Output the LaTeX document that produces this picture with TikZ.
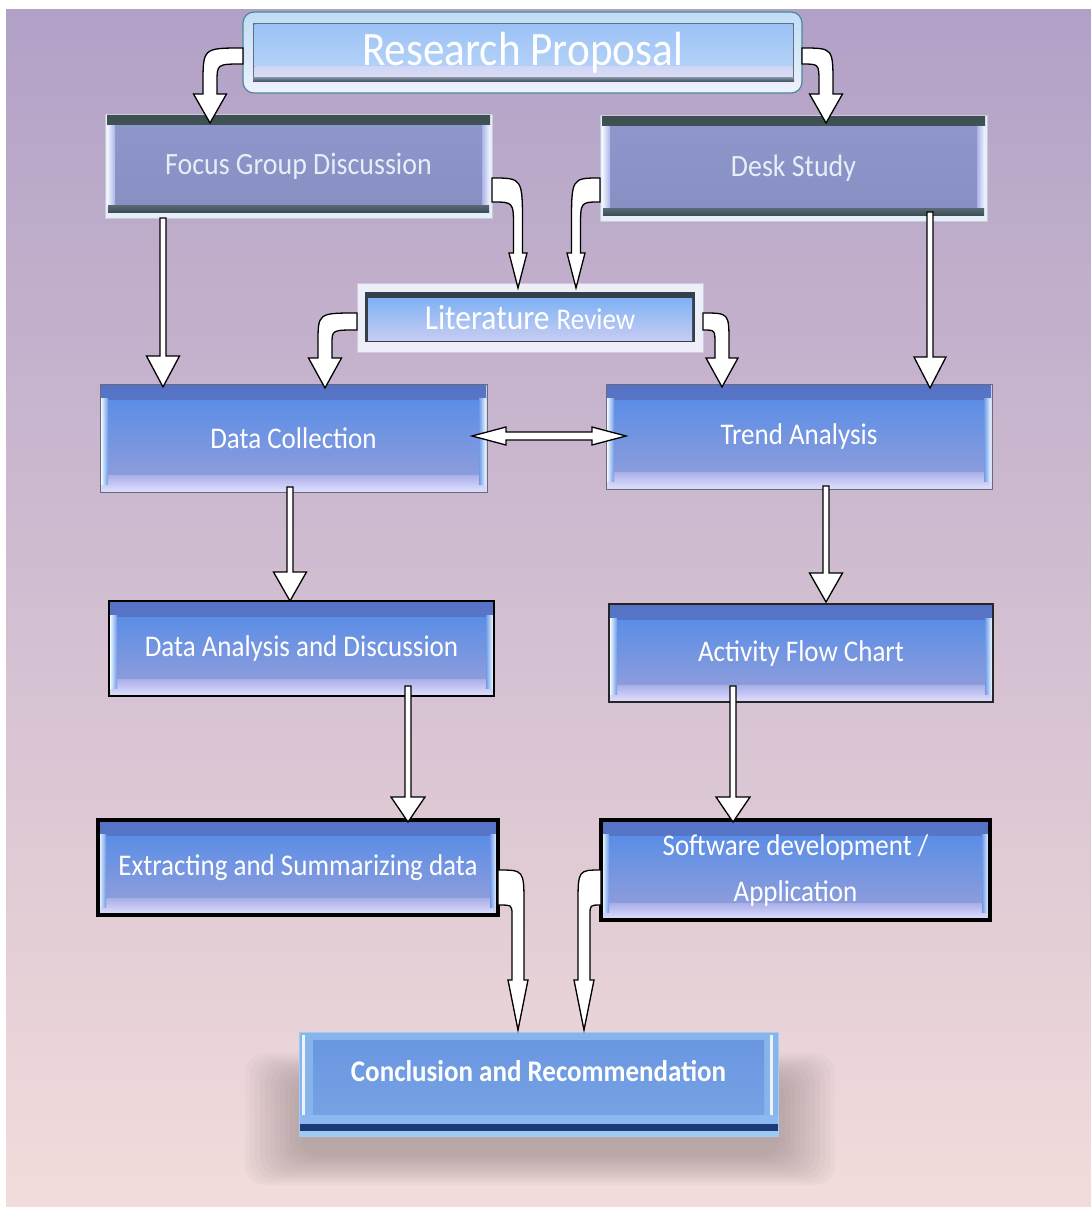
\documentclass[tikz,border=0pt]{standalone}
\usepackage{fontspec}
\setmainfont{Carlito}[FakeStretch=0.9]
\usetikzlibrary{calc}

\definecolor{bgtop}{HTML}{B2A1C7}
\definecolor{bgbot}{HTML}{F2DCDB}
\definecolor{rimA}{HTML}{E6EEFA}
\definecolor{barAt}{HTML}{3C4E50}
\definecolor{barAb}{HTML}{6C7C84}
\definecolor{mainAt}{HTML}{8E97CB}
\definecolor{mainAb}{HTML}{878FC3}
\definecolor{edgeAo}{HTML}{F4F8FF}
\definecolor{edgeAi}{HTML}{A8B4E8}
\definecolor{botAt}{HTML}{5A6A74}
\definecolor{botAb}{HTML}{3E4E56}
\definecolor{txtA}{HTML}{E8EEF8}
\definecolor{rimB}{HTML}{D4DAF8}
\definecolor{lineB}{HTML}{6A6A7A}
\definecolor{topBt}{HTML}{5672C4}
\definecolor{topBb}{HTML}{5C88DE}
\definecolor{mainBt}{HTML}{5B8EE6}
\definecolor{mainBm}{HTML}{6A94E2}
\definecolor{mainBb}{HTML}{8C9CDC}
\definecolor{lowBt}{HTML}{A8AEE8}
\definecolor{lowBb}{HTML}{D8D8FA}
\definecolor{edgeBo}{HTML}{F0FAFF}
\definecolor{edgeBi}{HTML}{6E9AE6}
\definecolor{rpRimT}{HTML}{BFDDF6}
\definecolor{rpRimB}{HTML}{EEF2FC}
\definecolor{rpLine}{HTML}{4C8898}
\definecolor{rpFrame}{HTML}{5E7282}
\definecolor{rpInT}{HTML}{9CC2F6}
\definecolor{rpInB}{HTML}{B4D2F8}
\definecolor{rpLowT}{HTML}{D0D6F4}
\definecolor{rpLowB}{HTML}{DCDCF4}
\definecolor{rpDarkT}{HTML}{8896A8}
\definecolor{rpDarkB}{HTML}{4A5868}
\definecolor{lrRim}{HTML}{EEEEF8}
\definecolor{lrLine}{HTML}{CCCCDD}
\definecolor{lrFrame}{HTML}{34404E}
\definecolor{lrInT}{HTML}{7FB2F4}
\definecolor{lrInB}{HTML}{C6CCF2}
\definecolor{crRim}{HTML}{88B4EC}
\definecolor{crLine}{HTML}{A4CCF2}
\definecolor{crInT}{HTML}{6896E0}
\definecolor{crInB}{HTML}{7AA4E6}
\definecolor{crStrip}{HTML}{8CBAF0}
\definecolor{crNavy}{HTML}{1C3A78}
\definecolor{crBot}{HTML}{9ECAF2}
\definecolor{shadowc}{HTML}{7A6A6A}

\newcommand\ppfill[3]{\fill[sharp corners,#1] let \p1=(path picture bounding box.south west), \p2=(path picture bounding box.north east) in (#2) rectangle (#3);}

\newcommand\vblock[5]{\draw[blk] let \p1=(#1), \p2=(#2) in
 ({\x2-#3pt},\y1) -- ({\x2-#3pt},{\y2+#5pt}) -- ({\x2-#4pt},{\y2+#5pt}) -- (\x2,\y2)
 -- ({\x2+#4pt},{\y2+#5pt}) -- ({\x2+#3pt},{\y2+#5pt}) -- ({\x2+#3pt},\y1) -- cycle;}

\newcommand\hdouble[5]{\draw[blk] let \p1=(#1), \p2=(#2) in
 (\x1,\y1) -- ({\x1+#5pt},{\y1+#4pt}) -- ({\x1+#5pt},{\y1+#3pt}) -- ({\x2-#5pt},{\y1+#3pt})
 -- ({\x2-#5pt},{\y1+#4pt}) -- (\x2,\y1) -- ({\x2-#5pt},{\y1-#4pt}) -- ({\x2-#5pt},{\y1-#3pt})
 -- ({\x1+#5pt},{\y1-#3pt}) -- ({\x1+#5pt},{\y1-#4pt}) -- cycle;}

\newcommand\bent[9]{\draw[blk] let \p1=(#1), \p2=(#2) in
 (\x1,{\y1+#4pt})
 .. controls ({\x2+(#3)*(#5pt)},{\y1+#4pt}) and ({\x2+(#3)*(#5pt)},{\y1+#4pt}) .. ({\x2+(#3)*(#5pt)},{\y1+#4pt-#8pt})
 -- ({\x2+(#3)*(#5pt)},{\y2+#7pt}) -- ({\x2+(#3)*(#6pt)},{\y2+#7pt}) -- (\x2,\y2)
 -- ({\x2-(#3)*(#6pt)},{\y2+#7pt}) -- ({\x2-(#3)*(#5pt)},{\y2+#7pt})
 -- ({\x2-(#3)*(#5pt)},{\y1-#4pt-#9pt})
 .. controls ({\x2-(#3)*(#5pt)},{\y1-#4pt}) and ({\x2-(#3)*(#5pt)},{\y1-#4pt}) .. (\x1,{\y1-#4pt}) -- cycle;}

\tikzset{
 lbl/.style={rectangle, text=white, font=\fontsize{30}{36}\selectfont, align=center, inner sep=0pt, outer sep=0pt},
 boxA/.style={lbl, fill=rimA, draw=rimA!70!gray, line width=0.5pt, text=txtA, font=\fontsize{31}{36}\selectfont,
   path picture={
     \ppfill{top color=barAt,bottom color=barAb}{\x1+2pt,\y2-11pt}{\x2-2pt,\y2-1.5pt}
     \ppfill{top color=mainAt,bottom color=mainAb}{\x1+10pt,\y1+13pt}{\x2-10pt,\y2-11pt}
     \ppfill{left color=edgeAo,right color=edgeAi}{\x1+2pt,\y1+13pt}{\x1+10pt,\y2-11pt}
     \ppfill{left color=edgeAi,right color=edgeAo}{\x2-10pt,\y1+13pt}{\x2-2pt,\y2-11pt}
     \ppfill{top color=botAt,bottom color=botAb}{\x1+3pt,\y1+6pt}{\x2-3pt,\y1+13pt}
   }},
 boxB/.style={lbl, fill=rimB,
   path picture={
     \ppfill{top color=topBt,bottom color=topBb}{\x1+1pt,\y2-16pt}{\x2-1pt,\y2-1pt}
     \ppfill{top color=mainBt,middle color=mainBm,bottom color=mainBb}{\x1+8pt,\y1+17pt}{\x2-8pt,\y2-16pt}
     \ppfill{top color=lowBt,bottom color=lowBb}{\x1+3pt,\y1+3pt}{\x2-3pt,\y1+17pt}
     \ppfill{left color=edgeBo,right color=edgeBi}{\x1+1pt,\y1+8pt}{\x1+8pt,\y2-14pt}
     \ppfill{left color=edgeBi,right color=edgeBo}{\x2-8pt,\y1+8pt}{\x2-1pt,\y2-14pt}
   }},
 boxRP/.style={lbl, rounded corners=11pt, top color=rpRimT, bottom color=rpRimB, draw=rpLine, line width=1.2pt,
   font=\fontsize{48}{54}\selectfont,
   path picture={
     \ppfill{fill=rpFrame}{\x1+10pt,\y1+12pt}{\x2-8pt,\y2-11pt}
     \ppfill{top color=rpInT,bottom color=rpInB}{\x1+11.5pt,\y1+26pt}{\x2-9.5pt,\y2-13pt}
     \ppfill{top color=rpLowT,bottom color=rpLowB}{\x1+11.5pt,\y1+16pt}{\x2-9.5pt,\y1+26pt}
     \ppfill{top color=rpDarkT,bottom color=rpDarkB}{\x1+10pt,\y1+12pt}{\x2-8pt,\y1+16pt}
   }},
 boxLR/.style={lbl, fill=lrRim, draw=lrLine, line width=0.6pt,
   path picture={
     \ppfill{fill=lrFrame}{\x1+8pt,\y1+10pt}{\x2-8pt,\y2-9pt}
     \ppfill{top color=lrInT,bottom color=lrInB}{\x1+11pt,\y1+12pt}{\x2-11pt,\y2-15pt}
   }},
 boxCR/.style={lbl, font=\bfseries\fontsize{30}{36}\selectfont, fill=crRim, draw=crLine, line width=1pt,
   path picture={
     \ppfill{top color=crInT,bottom color=crInB}{\x1+14pt,\y1+21pt}{\x2-14pt,\y2-8pt}
     \ppfill{fill=crStrip}{\x1,\y1+12pt}{\x2,\y1+21pt}
     \ppfill{fill=crNavy}{\x1,\y1+5pt}{\x2,\y1+12pt}
     \ppfill{fill=crBot}{\x1,\y1}{\x2,\y1+5pt}
     \ppfill{fill=white,opacity=0.85}{\x1+3pt,\y1+21pt}{\x1+6pt,\y2-3pt}
     \ppfill{fill=white,opacity=0.85}{\x2-8pt,\y1+21pt}{\x2-5pt,\y2-3pt}
   }},
 blk/.style={fill=white, draw=black, line width=1.3pt},
}

\begin{document}
\begin{tikzpicture}[x=1pt,y=-1pt]
\useasboundingbox (0,0) rectangle (1091,1207);
\fill[white] (0,0) rectangle (1091,1207);
\shade[top color=bgtop, bottom color=bgbot] (6,10) rectangle (1091,1207);

% shadow of the last box
\foreach \i in {0,...,11} {
  \fill[shadowc, opacity=0.045, rounded corners=20pt] ({300-5*\i},{1082-2.6*\i}) rectangle ({780+5*\i},{1156+2.6*\i});
}

% boxes
\node[boxRP, minimum width=559pt, minimum height=81pt] (rp) at (522.5,52.5) {Research Proposal};
\node[boxA, minimum width=387pt, minimum height=104pt] (fgd) at (298.5,166) {Focus Group Discussion};
\node[boxA, minimum width=387pt, minimum height=106pt] (ds) at (793.5,168) {Desk Study};
\node[boxLR, minimum width=346pt, minimum height=69pt] (lr) at (530,317.5)
  {\fontsize{35}{40}\selectfont Literature \fontsize{30}{36}\selectfont Review};
\node[boxB, draw=lineB, line width=0.8pt, minimum width=387pt, minimum height=108pt] (dc) at (293.5,438) {Data Collection};
\node[boxB, draw=lineB, line width=0.8pt, minimum width=386pt, minimum height=105pt] (ta) at (799,436.5) {Trend Analysis};
\node[boxB, draw=black, line width=1.6pt, minimum width=385pt, minimum height=95pt] (dad) at (301.5,648.5) {Data Analysis and Discussion};
\node[boxB, draw=black!85, line width=1.6pt, minimum width=384pt, minimum height=98pt] (afc) at (801,653) {Activity Flow Chart};
\node[boxB, draw=black, line width=4pt, minimum width=400pt, minimum height=95pt] (esd) at (298,867.5) {Extracting and Summarizing data};
\node[boxB, draw=black, line width=3.5pt, minimum width=389pt, minimum height=100pt, font=\fontsize{30}{46}\selectfont] (sda) at (795.5,870) {Software development /\\Application};
\node[boxCR, minimum width=479pt, minimum height=104pt] (cr) at (538.5,1084) {\raisebox{27pt}{Conclusion and Recommendation}};

% bent arrows
\bent{$(rp.west)+(0,3.5)$}{$(fgd.north west)+(105,9)$}{-1}{8}{7}{16.5}{29}{36}{18}
\bent{$(rp.east)+(0,3.5)$}{$(ds.north west)+(226,8)$}{1}{8}{7}{16.5}{29}{36}{18}
\bent{$(fgd.east)+(0,24)$}{$(lr.north west)+(161,5)$}{1}{12}{4.5}{9}{35}{47}{25}
\bent{$(ds.west)+(0,22)$}{$(lr.north west)+(219,5)$}{-1}{12}{4.5}{9}{35}{47}{25}
\bent{$(lr.west)+(0,4)$}{$(dc.north west)+(225,4)$}{-1}{8.5}{7}{16.5}{30}{30}{14}
\bent{$(lr.east)+(0,4)$}{$(ta.north west)+(116,3)$}{1}{8.5}{7}{16}{29}{30}{14}
\bent{$(esd.east)+(0,20)$}{$(cr.north west)+(219,-2)$}{1}{17.5}{6}{10}{50}{35}{10}
\bent{$(sda.west)+(0,17.5)$}{$(cr.north west)+(285,-2)$}{-1}{17.5}{6}{10}{50}{35}{10}

% straight arrows
\vblock{fgd.south}{$(dc.north west)+(63,3)$}{3}{16.5}{31}
\vblock{$(ds.south)+(0,-9)$}{$(ta.north west)+(324,4)$}{3}{16}{31}
\vblock{$(dc.south)+(0,-5)$}{$(dad.north west)+(181,0)$}{3}{16.5}{29}
\vblock{$(ta.south)+(0,-3)$}{$(afc.north west)+(217,-2)$}{3}{16.5}{29}
\vblock{$(dad.south)+(0,-10)$}{$(esd.north west)+(310,2)$}{3}{17}{25}
\vblock{$(afc.south)+(0,-16)$}{$(sda.north west)+(132,2)$}{3}{17}{25}

% double arrow
\hdouble{$(dc.east)+(-15,-2)$}{$(ta.west)+(20,-0.5)$}{4}{9}{34}
\end{tikzpicture}
\end{document}
